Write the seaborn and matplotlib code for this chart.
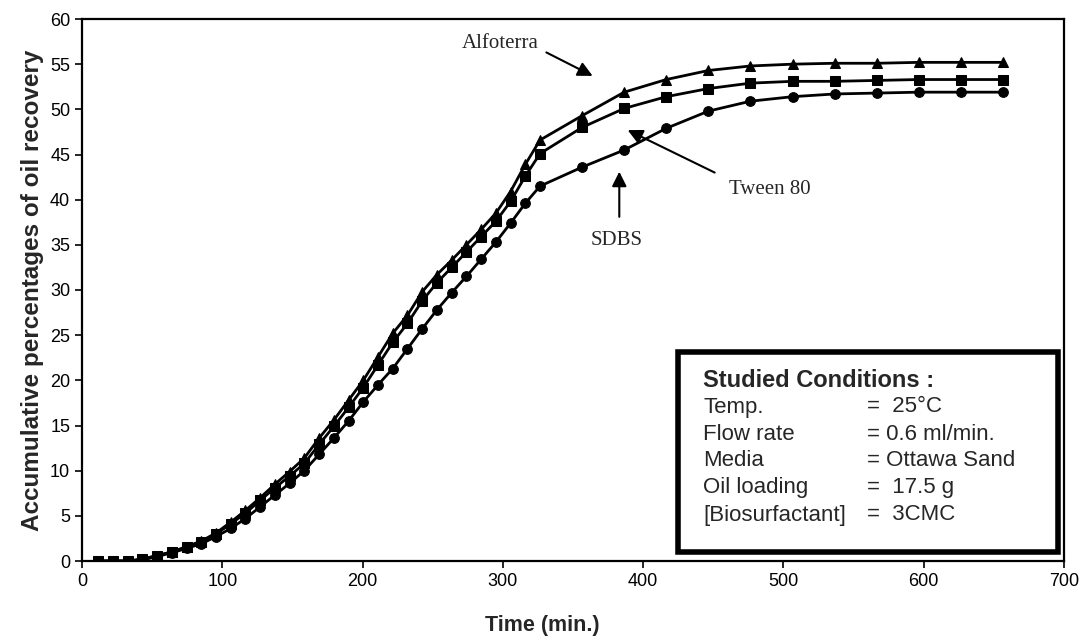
import numpy as np
import pandas as pd
import seaborn as sns
import matplotlib.pyplot as plt

# time of each sample (min.)
time_min = [11.5, 22, 32.5, 43, 53.5, 64, 74.5, 85, 95.5, 106, 116.5, 127, 137.5,
            148, 158.5, 169, 179.5, 190, 200.5, 211, 221.5, 232, 242.5, 253,
            263.5, 274, 284.5, 295, 305.5, 316, 326.5, 356.5, 386.5, 416.5,
            446.5, 476.5, 506.5, 536.5, 566.5, 596.5, 626.5, 656.5]

alfoterra = [0, 0, 0, 0.2, 0.6, 1.0, 1.6, 2.2, 3.1, 4.3, 5.6, 7.0, 8.5, 9.9,
             11.4, 13.6, 15.6, 17.8, 20.0, 22.6, 25.2, 27.2, 29.8, 31.7, 33.3,
             35.0, 36.7, 38.5, 40.9, 43.9, 46.6, 49.3, 51.9, 53.3, 54.3, 54.8,
             55.0, 55.1, 55.1, 55.2, 55.2, 55.2]

tween80 = [0, 0, 0, 0.2, 0.6, 1.0, 1.5, 2.1, 3.0, 4.1, 5.3, 6.7, 8.1, 9.4,
           10.8, 12.9, 14.9, 17.0, 19.2, 21.7, 24.2, 26.3, 28.8, 30.8, 32.5,
           34.2, 35.9, 37.6, 39.8, 42.6, 45.1, 48.0, 50.1, 51.4, 52.3, 52.9,
           53.1, 53.1, 53.2, 53.3, 53.3, 53.3]

sdbs = [0, 0, 0, 0.1, 0.5, 0.9, 1.4, 1.9, 2.7, 3.6, 4.7, 6.0, 7.3, 8.6,
        10.0, 11.8, 13.6, 15.5, 17.6, 19.5, 21.3, 23.5, 25.7, 27.8, 29.7,
        31.5, 33.4, 35.3, 37.4, 39.6, 41.5, 43.6, 45.5, 47.9, 49.8, 50.9,
        51.4, 51.7, 51.8, 51.9, 51.9, 51.9]

series = {'Alfoterra': alfoterra, 'Tween 80': tween80, 'SDBS': sdbs}
markers = {'Alfoterra': '^', 'Tween 80': 's', 'SDBS': 'o'}

df = pd.concat([pd.DataFrame({'time': time_min, 'recovery': vals, 'surfactant': name})
                for name, vals in series.items()], ignore_index=True)

sns.set_style('ticks')
plt.rcParams['font.family'] = ['Liberation Sans', 'DejaVu Sans']

fig = plt.figure(figsize=(10.82, 6.41), dpi=100)
ax = fig.add_axes([82 / 1082, 80 / 641, (1064 - 82) / 1082, (561 - 19) / 641])

sns.lineplot(data=df, x='time', y='recovery', style='surfactant',
             hue='surfactant', palette=['black'] * 3, markers=markers,
             dashes=False, markersize=7, linewidth=2, markeredgecolor='black',
             legend=False, ax=ax)

ax.set_xlim(0, 700)
ax.set_ylim(0, 60)
ax.set_xticks(range(0, 701, 100))
ax.set_yticks(range(0, 61, 5))
ax.tick_params(labelsize=13, length=5, width=1.2, colors='black')
for s in ax.spines.values():
    s.set_visible(True)
    s.set_linewidth(1.6)
    s.set_color('black')

ax.set_xlabel('Time (min.)', fontsize=15.5, fontweight='bold')
ax.xaxis.set_label_coords(0.469, -0.100)
ax.set_ylabel('Accumulative percentages of oil recovery', fontsize=17.5,
              fontweight='bold', labelpad=4)

# annotations
serif = ['Liberation Serif', 'DejaVu Serif']
arrow = dict(arrowstyle='-|>', color='black', lw=1.5, mutation_scale=22,
             shrinkA=0, shrinkB=0)
labels = [('Alfoterra', (298, 57.3), (331, 56.3), (364, 53.7)),
          ('Tween 80', (490, 41.1), (451, 43.0), (389, 47.7)),
          ('SDBS', (381, 35.5), (383, 38.1), (383, 43.1))]
for name, txt, tail, head in labels:
    ax.text(*txt, name, family=serif, fontsize=15, ha='center', va='center')
    ax.annotate('', xy=head, xytext=tail, arrowprops=arrow)

# studied conditions box
box = plt.Rectangle((678 / 1082, (641 - 552) / 641), 380 / 1082, 200 / 641,
                    transform=fig.transFigure, fill=False, lw=4, color='black')
fig.add_artist(box)
fig.text(703 / 1082, 1 - 380 / 641, 'Studied Conditions :', fontsize=17,
         fontweight='bold', va='center')
rows = [('Temp.', '=  25°C'), ('Flow rate', '= 0.6 ml/min.'),
        ('Media', '= Ottawa Sand'), ('Oil loading', '=  17.5 g'),
        ('[Biosurfactant]', '=  3CMC')]
for i, (k, v) in enumerate(rows):
    y = 1 - (407 + 27 * i) / 641
    fig.text(703 / 1082, y, k, fontsize=16, va='center')
    fig.text(867 / 1082, y, v, fontsize=16, va='center')

fig.savefig('out.png', dpi=100)
